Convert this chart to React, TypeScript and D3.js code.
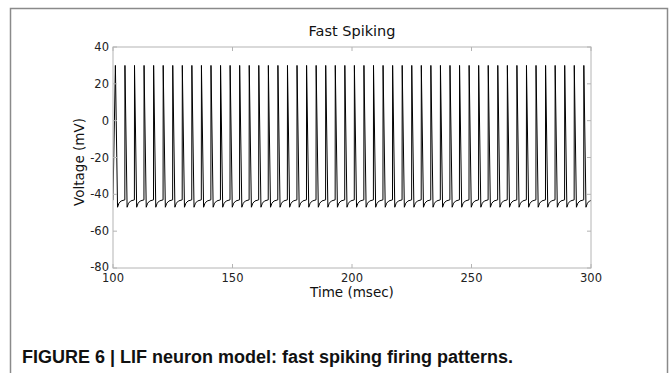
import * as d3 from "d3";

// spike peak times (ms)
const spikeTimes = [
  101, 105, 109, 113, 117, 121, 125, 129, 133, 137,
  141, 145, 149, 153, 157, 161, 165, 169, 173, 177,
  181, 185, 189, 193, 197, 201, 205, 209, 213, 217,
  221, 225, 229, 233, 237, 241, 245, 249, 253, 257,
  261, 265, 269, 273, 277, 281, 285, 289, 293, 297,
];

// shape of one cycle after a peak: offset (ms) / voltage (mV)
const cycleOffsets = [0, 0.9, 1.5, 2.4, 3.95];
const cycleVolts = [30, -47, -44.8, -43.6, -43];

const startVolt = -43.2;

const xTicks = [100, 150, 200, 250, 300];
const yTicks = [40, 20, 0, -20, -40, -60, -80];

const W = 671;
const H = 373;
const plot = { left: 113, right: 591, top: 47, bottom: 268 };

const FONT = "'DejaVu Sans', sans-serif";

export default function App() {
  const x = d3.scaleLinear().domain([100, 300]).range([plot.left, plot.right]);
  const y = d3.scaleLinear().domain([-80, 40]).range([plot.bottom, plot.top]);

  const pts: [number, number][] = [[100, startVolt]];
  spikeTimes.forEach((t) => {
    cycleOffsets.forEach((o, i) => pts.push([t + o, cycleVolts[i]]));
  });

  const line = d3
    .line<[number, number]>()
    .x((d) => x(d[0]))
    .y((d) => y(d[1]));

  const spine = "#b4b4b4";
  const tickLen = 4;

  return (
    <svg
      width={W}
      height={H}
      style={{ position: "absolute", left: 0, top: 0, background: "#fff" }}
    >
      {/* figure frame */}
      <rect x={10.5} y={8.5} width={657} height={380} fill="none" stroke="#8a8a8a" strokeWidth={1.5} />

      <text x={(plot.left + plot.right) / 2} y={36} textAnchor="middle" fontFamily={FONT} fontSize={14.5} fill="#111">
        Fast Spiking
      </text>

      <defs>
        <clipPath id="plotclip">
          <rect x={plot.left} y={plot.top} width={plot.right - plot.left} height={plot.bottom - plot.top} />
        </clipPath>
      </defs>

      <path d={line(pts)!} fill="none" stroke="#000" strokeWidth={1} clipPath="url(#plotclip)" />

      {/* spines */}
      <rect
        x={plot.left}
        y={plot.top}
        width={plot.right - plot.left}
        height={plot.bottom - plot.top}
        fill="none"
        stroke={spine}
        strokeWidth={1}
      />

      {/* x ticks, inward on bottom and top */}
      {xTicks.map((t) => (
        <g key={"x" + t}>
          <line x1={x(t)} x2={x(t)} y1={plot.bottom} y2={plot.bottom - tickLen} stroke={spine} />
          <line x1={x(t)} x2={x(t)} y1={plot.top} y2={plot.top + tickLen} stroke={spine} />
          <text x={x(t)} y={281.5} textAnchor="middle" fontFamily={FONT} fontSize={11.5} fill="#222">
            {t}
          </text>
        </g>
      ))}

      {/* y ticks, inward on left and right */}
      {yTicks.map((t) => (
        <g key={"y" + t}>
          <line x1={plot.left} x2={plot.left + tickLen} y1={y(t)} y2={y(t)} stroke={spine} />
          <line x1={plot.right} x2={plot.right - tickLen} y1={y(t)} y2={y(t)} stroke={spine} />
          <text x={109} y={y(t) + (t === -80 ? 3 : 4)} textAnchor="end" fontFamily={FONT} fontSize={11.5} fill="#222">
            {t}
          </text>
        </g>
      ))}

      <text x={(plot.left + plot.right) / 2} y={297} textAnchor="middle" fontFamily={FONT} fontSize={13.5} fill="#111">
        Time (msec)
      </text>
      <text
        transform={`translate(84, 162) rotate(-90)`}
        textAnchor="middle"
        fontFamily={FONT}
        fontSize={13.5}
        fill="#111"
      >
        Voltage (mV)
      </text>

      <text
        x={22}
        y={363}
        fontFamily="'Liberation Sans Narrow', 'Liberation Sans', Arial, sans-serif"
        fontWeight="bold"
        fontSize={18}
        textLength={491}
        lengthAdjust="spacingAndGlyphs"
        fill="#111"
      >
        FIGURE 6 | LIF neuron model: fast spiking firing patterns.
      </text>
    </svg>
  );
}
